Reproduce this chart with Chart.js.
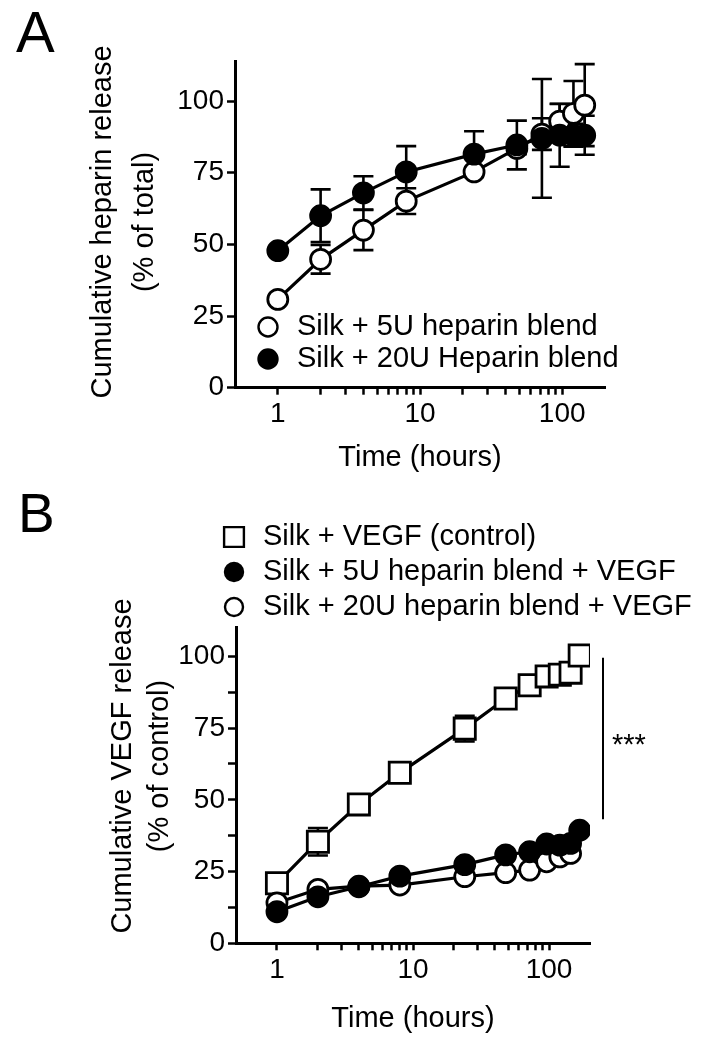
<!DOCTYPE html>
<html>
<head>
<meta charset="utf-8">
<script src="https://cdn.jsdelivr.net/npm/chart.js@4.4.1/dist/chart.umd.min.js"></script>
<style>
  body { margin: 0; background: #fff; }
  .panel { position: absolute; left: 0; width: 702px; }
  #wrapA { top: 0; height: 490px; }
  #wrapB { top: 490px; height: 558px; }
</style>
</head>
<body>
<div class="panel" id="wrapA"><canvas id="chartA"></canvas></div>
<div class="panel" id="wrapB"><canvas id="chartB"></canvas></div>
<script>
// ---- panel A: heparin release ----
const hoursA = [1, 2, 4, 8, 24, 48, 72, 96, 120, 144];
const heparin5U = [30.8, 44.8, 55.0, 65.1, 75.3, 83.5, 88.5, 93.0, 95.7, 98.6];
const heparin5UErr = [0, 5, 7, 4.5, 1.5, 2, 5.5, 6, 11.3, 14.3];
const heparin20U = [47.8, 60.0, 68.0, 75.3, 81.5, 84.7, 87.0, 88.1, 88.1, 88.1];
const heparin20UErr = [0, 9.2, 5.8, 9, 8, 8.5, 20.7, 11, 4, 6.8];

// ---- panel B: VEGF release ----
const hoursB = [1, 2, 4, 8, 24, 48, 72, 96, 120, 144, 168];
const vegfControl = [20.9, 35.4, 48.4, 59.4, 74.8, 85.3, 89.9, 93.0, 93.6, 94.3, 100.3];
const vegfControlErr = [0, 4.8, 0, 0, 4.5, 0, 0, 0, 0, 0, 0];
const vegf5U = [11.0, 16.2, 19.7, 23.4, 27.4, 30.8, 31.9, 34.6, 34.2, 34.8, 39.4];
const vegf20U = [14.1, 18.8, 19.9, 20.3, 23.2, 24.6, 25.5, 28.4, 30.1, 31.3];

// axis ticks
const xTicks = [1, 2, 3, 4, 5, 6, 7, 8, 9, 10, 20, 30, 40, 50, 60, 70, 80, 90, 100];
const xLabels = [1, 10, 100];
const yTicksA = [0, 12.5, 25, 37.5, 50, 62.5, 75, 87.5, 100, 112.5];
const yTicksB = [0, 12.5, 25, 37.5, 50, 62.5, 75, 87.5, 100];
const yLabels = [0, 25, 50, 75, 100];

const FONT = '"Liberation Sans", Arial, Helvetica, sans-serif';
Chart.defaults.font.family = FONT;
Chart.defaults.color = '#000';

function pts(xs, ys) {
    return ys.map((v, i) => ({ x: xs[i], y: v }));
}

// error bars drawn under the points
const errorBars = {
    id: 'errorBars',
    beforeDatasetsDraw(chart) {
        const ctx = chart.ctx;
        const sx = chart.scales.x, sy = chart.scales.y;
        ctx.save();
        ctx.strokeStyle = '#000';
        ctx.lineWidth = 2.6;
        chart.data.datasets.forEach(ds => {
            if (!ds.errors) return;
            ds.data.forEach((p, i) => {
                const e = ds.errors[i];
                if (!e) return;
                const px = sx.getPixelForValue(p.x);
                const top = sy.getPixelForValue(p.y + e);
                const bot = sy.getPixelForValue(p.y - e);
                ctx.beginPath();
                ctx.moveTo(px, top); ctx.lineTo(px, bot);
                ctx.moveTo(px - 10, top); ctx.lineTo(px + 10, top);
                ctx.moveTo(px - 10, bot); ctx.lineTo(px + 10, bot);
                ctx.stroke();
            });
        });
        ctx.restore();
    }
};

// panel letter, rotated y title, legend and significance bar
const annotate = {
    id: 'annotate',
    afterDraw(chart, args, o) {
        const ctx = chart.ctx;
        ctx.save();
        ctx.fillStyle = '#000';
        ctx.font = o.letterSize + 'px ' + FONT;
        ctx.textAlign = 'left';
        ctx.textBaseline = 'alphabetic';
        ctx.fillText(o.letter, o.letterX, o.letterY);

        ctx.font = '29px ' + FONT;
        ctx.textAlign = 'center';
        ctx.textBaseline = 'middle';
        o.yTitle.forEach((line, i) => {
            ctx.save();
            ctx.translate(o.yTitleX[i], o.yTitleY);
            ctx.rotate(-Math.PI / 2);
            ctx.fillText(line, 0, 0);
            ctx.restore();
        });

        // legend
        ctx.textAlign = 'left';
        chart.data.datasets.forEach((ds, i) => {
            const y = o.legendY + i * o.legendGap;
            ctx.fillStyle = ds.pointBackgroundColor;
            ctx.strokeStyle = '#000';
            ctx.lineWidth = 2.4;
            Chart.helpers.drawPoint(ctx, {
                pointStyle: ds.pointStyle,
                radius: ds.pointStyle === 'rect' ? 14 : o.legendRadius,
                borderWidth: 2.4,
                rotation: 0
            }, o.legendX, y);
            ctx.fillStyle = '#000';
            ctx.fillText(ds.label, o.legendX + 29, y);
        });

        if (o.sig) {
            const sy = chart.scales.y;
            const x = chart.chartArea.right + 13;
            ctx.strokeStyle = '#000';
            ctx.lineWidth = 2;
            ctx.beginPath();
            ctx.moveTo(x, sy.getPixelForValue(o.sig.from));
            ctx.lineTo(x, sy.getPixelForValue(o.sig.to));
            ctx.stroke();
            ctx.textBaseline = 'alphabetic';
            ctx.fillText('***', x + 9, sy.getPixelForValue(o.sig.labelAt));
        }
        ctx.restore();
    }
};

function lineSet(label, xs, ys, errs, style, fill, order) {
    return {
        label: label,
        data: pts(xs, ys),
        errors: errs,
        order: order,
        borderColor: '#000',
        borderWidth: 3.2,
        pointStyle: style,
        pointRadius: style === 'rect' ? 15 : 10,
        pointBorderWidth: 2.8,
        pointBorderColor: '#000',
        pointBackgroundColor: fill,
        tension: 0
    };
}

function axes(yMax, yTicks, yWidth, xHeight, titlePad) {
    return {
        x: {
            type: 'logarithmic',
            min: 0.5,
            max: 200,
            afterBuildTicks: s => { s.ticks = xTicks.map(v => ({ value: v, major: xLabels.includes(v) })); },
            afterFit: s => { s.height = xHeight; },
            border: { display: true, color: '#000', width: 3 },
            grid: { drawOnChartArea: false, tickLength: 7, tickColor: '#000', tickWidth: 2.5 },
            ticks: {
                autoSkip: false, maxRotation: 0, padding: 3,
                font: { size: 28 },
                callback: v => xLabels.includes(v) ? String(v) : ''
            },
            title: { display: true, text: 'Time (hours)', font: { size: 29 }, padding: { top: 0, bottom: titlePad } }
        },
        y: {
            min: 0,
            max: yMax,
            afterBuildTicks: s => { s.ticks = yTicks.map(v => ({ value: v })); },
            afterFit: s => { s.width = yWidth; },
            border: { display: true, color: '#000', width: 3 },
            grid: { drawOnChartArea: false, tickLength: 8, tickColor: '#000', tickWidth: 2.5 },
            ticks: {
                padding: 3,
                font: { size: 28 },
                callback: v => yLabels.includes(v) ? String(v) : ''
            }
        }
    };
}

new Chart(document.getElementById('chartA'), {
    type: 'line',
    data: {
        datasets: [
            lineSet('Silk + 5U heparin blend', hoursA, heparin5U, heparin5UErr, 'circle', '#fff', 1),
            lineSet('Silk + 20U Heparin blend', hoursA, heparin20U, heparin20UErr, 'circle', '#000', 0)
        ]
    },
    options: {
        responsive: true,
        maintainAspectRatio: false,
        animation: false,
        layout: { padding: { top: 61, right: 97, left: 0, bottom: 0 } },
        scales: axes(114, yTicksA, 235, 102.3, 14.6),
        plugins: {
            legend: { display: false },
            tooltip: { enabled: false },
            annotate: {
                letter: 'A', letterSize: 58, letterX: 16, letterY: 52,
                yTitle: ['Cumulative heparin release', '(% of total)'],
                yTitleX: [103, 145], yTitleY: 222,
                legendX: 268, legendY: 327, legendGap: 32, legendRadius: 9.5
            }
        }
    },
    plugins: [errorBars, annotate]
});

new Chart(document.getElementById('chartB'), {
    type: 'line',
    data: {
        datasets: [
            lineSet('Silk + VEGF (control)', hoursB, vegfControl, vegfControlErr, 'rect', '#fff', 2),
            lineSet('Silk + 5U heparin blend + VEGF', hoursB, vegf5U, null, 'circle', '#000', 0),
            lineSet('Silk + 20U heparin blend + VEGF', hoursB, vegf20U, null, 'circle', '#fff', 1)
        ]
    },
    options: {
        responsive: true,
        maintainAspectRatio: false,
        animation: false,
        layout: { padding: { top: 137.6, right: 112, left: 0, bottom: 0 } },
        scales: axes(110, yTicksB, 236, 104.7, 11.6),
        plugins: {
            legend: { display: false },
            tooltip: { enabled: false },
            annotate: {
                letter: 'B', letterSize: 55, letterX: 18, letterY: 42,
                yTitle: ['Cumulative VEGF release', '(% of control)'],
                yTitleX: [123, 160], yTitleY: 276,
                legendX: 234, legendY: 47, legendGap: 35, legendRadius: 9,
                sig: { from: 99.5, to: 43.2, labelAt: 66 }
            }
        }
    },
    plugins: [errorBars, annotate]
});
</script>
</body>
</html>
